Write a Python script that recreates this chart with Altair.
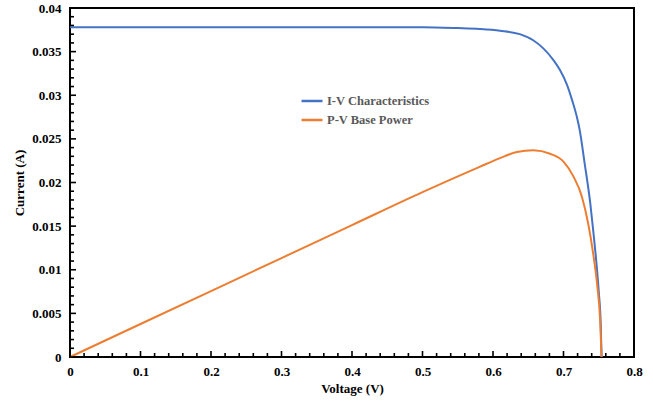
import altair as alt
import pandas as pd

# I-V characteristics (Voltage V, Current A)
iv_v = [0.0, 0.1, 0.2, 0.3, 0.4, 0.5, 0.55, 0.581, 0.610, 0.638, 0.657, 0.671, 0.686,
        0.695, 0.705, 0.712, 0.719, 0.723, 0.730, 0.738, 0.742, 0.747, 0.750, 0.753, 0.754]
iv_i = [0.0378, 0.0378, 0.0378, 0.0378, 0.0378, 0.0378, 0.0377, 0.0376, 0.0374, 0.0370,
        0.0363, 0.0354, 0.0340, 0.0329, 0.0312, 0.0295, 0.0275, 0.0260, 0.0222, 0.0176,
        0.0146, 0.0105, 0.0075, 0.0033, 0.0]

# P-V base power
pv_v = [0.0, 0.1, 0.2, 0.3, 0.4, 0.5, 0.581, 0.610, 0.634, 0.657, 0.681, 0.700, 0.714,
        0.726, 0.735, 0.742, 0.748, 0.752, 0.754]
pv_p = [0.0, 0.00378, 0.00756, 0.01134, 0.01512, 0.0189, 0.0218, 0.0228, 0.0235, 0.0237,
        0.0233, 0.0224, 0.0207, 0.0184, 0.0153, 0.0119, 0.0081, 0.0042, 0.0]

series_names = ["I-V Characteristics", "P-V Base Power"]
series_colors = ["#4472C4", "#ED7D31"]

x_major = [0, 0.1, 0.2, 0.3, 0.4, 0.5, 0.6, 0.7, 0.8]
x_minor = [0.02, 0.04, 0.06, 0.08, 0.12, 0.14, 0.16, 0.18, 0.22, 0.24, 0.26, 0.28,
           0.32, 0.34, 0.36, 0.38, 0.42, 0.44, 0.46, 0.48, 0.52, 0.54, 0.56, 0.58,
           0.62, 0.64, 0.66, 0.68, 0.72, 0.74, 0.76, 0.78]
y_major = [0, 0.005, 0.01, 0.015, 0.02, 0.025, 0.03, 0.035, 0.04]
y_minor = [0.001, 0.002, 0.003, 0.004, 0.006, 0.007, 0.008, 0.009, 0.011, 0.012, 0.013,
           0.014, 0.016, 0.017, 0.018, 0.019, 0.021, 0.022, 0.023, 0.024, 0.026, 0.027,
           0.028, 0.029, 0.031, 0.032, 0.033, 0.034, 0.036, 0.037, 0.038, 0.039]

df = pd.concat([
    pd.DataFrame({"V": iv_v, "val": iv_i, "series": series_names[0], "k": range(len(iv_v))}),
    pd.DataFrame({"V": pv_v, "val": pv_p, "series": series_names[1], "k": range(len(pv_v))}),
])

FONT = "Liberation Serif"

xs = alt.Scale(domain=[0, 0.8], nice=False, zero=False)
ys = alt.Scale(domain=[0, 0.04], nice=False, zero=False)
cs = alt.Scale(domain=series_names, range=series_colors)

x_axis = alt.Axis(orient="bottom", values=x_major, format="~g", ticks=False, domain=False,
                  grid=False, labelFlush=False, labelFont=FONT, labelFontSize=13,
                  labelFontWeight="bold", labelColor="#000000", labelPadding=8,
                  title="Voltage (V)", titleFont=FONT, titleFontSize=13,
                  titleFontWeight="bold", titleColor="#000000", titlePadding=4)
y_axis = alt.Axis(orient="left", values=y_major, format="~g", ticks=False, domain=False,
                  grid=False, labelFlush=False, labelFont=FONT, labelFontSize=13,
                  labelFontWeight="bold", labelColor="#000000", labelPadding=9,
                  title="Current (A)", titleFont=FONT, titleFontSize=13,
                  titleFontWeight="bold", titleColor="#000000", titlePadding=5)

legend = alt.Legend(orient="none", legendX=230, legendY=81, title=None, symbolType="stroke",
                    symbolSize=440, symbolStrokeWidth=2.5, labelFont=FONT, labelFontSize=12.5,
                    labelFontWeight="bold", labelColor="#595959", rowPadding=-4,
                    labelOffset=3, padding=0)

lines = alt.Chart(df).mark_line(strokeWidth=2, interpolate="monotone").encode(
    x=alt.X("V:Q", scale=xs, axis=x_axis),
    y=alt.Y("val:Q", scale=ys, axis=y_axis),
    color=alt.Color("series:N", scale=cs, legend=legend),
    order="k:Q",
)

# tick lengths in pixels, converted to axis units
X_PER_PX = 0.8 / 564
Y_PER_PX = 0.04 / 349


def xticks(values, px):
    d = pd.DataFrame({"xt": values})
    return alt.Chart(d).mark_rule(color="#000000", strokeWidth=1.6).encode(
        x=alt.X("xt:Q", scale=xs),
        y=alt.YDatum(0, scale=ys),
        y2=alt.Y2Datum(px * Y_PER_PX),
    )


def yticks(values, px):
    d = pd.DataFrame({"yt": values})
    return alt.Chart(d).mark_rule(color="#000000", strokeWidth=1.6).encode(
        y=alt.Y("yt:Q", scale=ys),
        x=alt.XDatum(0, scale=xs),
        x2=alt.X2Datum(px * X_PER_PX),
    )


chart = alt.layer(
    lines,
    xticks(x_major, 6), xticks(x_minor, 4), yticks(y_major, 6), yticks(y_minor, 4),
).properties(
    width=564,
    height=349,
    autosize=alt.AutoSizeParams(type="none"),
    padding={"left": 70, "top": 8, "right": 19, "bottom": 44},
    background="#ffffff",
).configure_view(stroke="#000000", strokeWidth=2)

chart.save("out.html", embed_options={"renderer": "svg", "actions": False})
